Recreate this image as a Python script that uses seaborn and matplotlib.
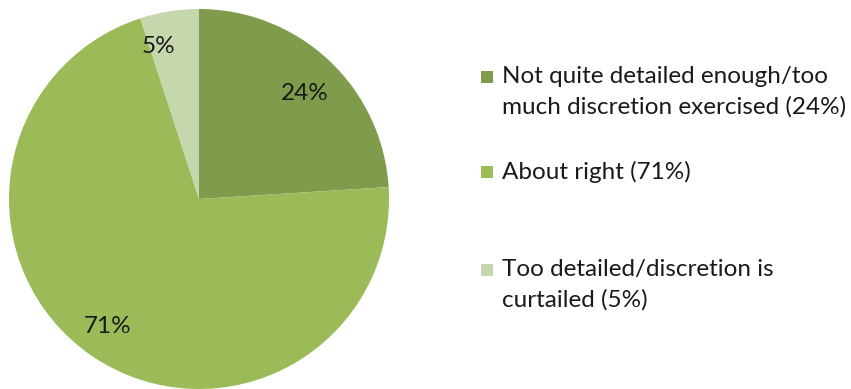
import matplotlib
matplotlib.use("Agg")
import matplotlib.pyplot as plt
import seaborn as sns
from matplotlib.patches import Rectangle

categories = ["Not quite detailed enough/too\nmuch discretion exercised (24%)",
              "About right (71%)",
              "Too detailed/discretion is\ncurtailed (5%)"]
values = [24, 71, 5]
pct_labels = ["24%", "71%", "5%"]
colors = ["#7F9C4C", "#9BBB59", "#C6D7AE"]

sns.set_theme(style="white")
plt.rcParams['font.family'] = ['Lato', 'DejaVu Sans']

W, H = 851, 389
fig = plt.figure(figsize=(W / 100, H / 100), dpi=100)
fig.patch.set_facecolor("white")

cx, cy, r = 199, 199, 190
ax = fig.add_axes([(cx - r) / W, (H - cy - r) / H, 2 * r / W, 2 * r / H])
wedges, texts = ax.pie(values, colors=colors, startangle=90, counterclock=False,
                       labels=pct_labels, labeldistance=0.80,
                       textprops=dict(fontsize=17.5, color="#1a1a1a"),
                       wedgeprops=dict(linewidth=0))
# small nudges (in axes data units, radius = 1) to match label placement
nudges = [(0.01, -0.03), (-0.03, -0.01), (-0.09, 0.01)]
for t, (dx, dy) in zip(texts, nudges):
    x, y = t.get_position()
    t.set_position((x + dx, y + dy))
    t.set_ha("center")
    t.set_va("center")
ax.set_aspect("equal")
ax.set_xlim(-1, 1)
ax.set_ylim(-1, 1)
ax.axis("off")

# legend (manual, Excel-style: square aligned with first text line)
sq = 12
x_sq, x_txt = 481, 502
line_y = [77, 172, 270]
for c, lab, y in zip(colors, categories, line_y):
    fig.patches.append(Rectangle((x_sq / W, (H - y - sq / 2) / H), sq / W, sq / H,
                                 transform=fig.transFigure, facecolor=c, edgecolor="none"))
    fig.text(x_txt / W, (H - y + 11) / H, lab, ha="left", va="top",
             fontsize=17.5, color="#1a1a1a", linespacing=1.5,
             transform=fig.transFigure)

fig.savefig("out.png", dpi=100)
